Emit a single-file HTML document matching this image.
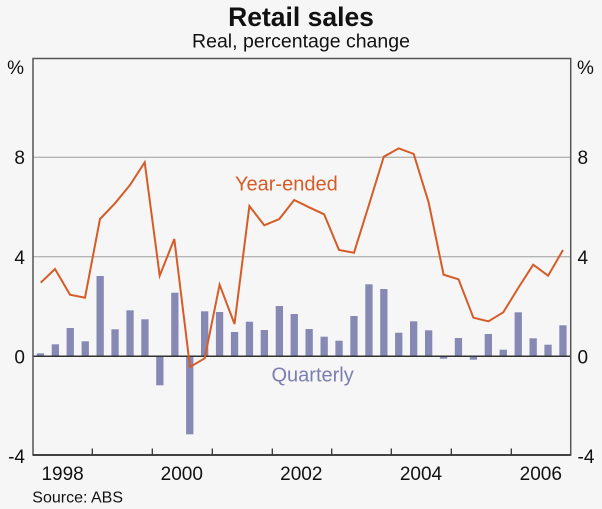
<!DOCTYPE html>
<html>
<head>
<meta charset="utf-8">
<style>
html,body{margin:0;padding:0;background:#f6f6f6;}
svg{display:block;}
text{font-family:"Liberation Sans",Arial,sans-serif;}
</style>
</head>
<body>
<svg width="602" height="509" viewBox="0 0 602 509" xmlns="http://www.w3.org/2000/svg">
<rect x="0" y="0" width="602" height="509" fill="#f6f6f6"/>
<!-- titles -->
<text x="301" y="26" text-anchor="middle" font-size="26.5" font-weight="bold" fill="#111">Retail sales</text>
<text x="301" y="47.5" text-anchor="middle" font-size="19.5" fill="#111">Real, percentage change</text>
<!-- gridlines -->
<line x1="33" y1="157.3" x2="570.7" y2="157.3" stroke="#b4b4b4" stroke-width="1.3"/>
<line x1="33" y1="256.7" x2="570.7" y2="256.7" stroke="#b4b4b4" stroke-width="1.3"/>
<!-- bars -->
<g fill="#8689b4">
<rect x="36.8" y="353.3" width="7.3" height="2.7"/>
<rect x="51.7" y="344.3" width="7.3" height="11.7"/>
<rect x="66.6" y="328" width="7.3" height="28"/>
<rect x="81.6" y="341.3" width="7.3" height="14.7"/>
<rect x="96.5" y="276" width="7.3" height="80"/>
<rect x="111.4" y="329.3" width="7.3" height="26.7"/>
<rect x="126.4" y="310.3" width="7.3" height="45.7"/>
<rect x="141.3" y="319.3" width="7.3" height="36.7"/>
<rect x="156.2" y="356" width="7.3" height="29.3"/>
<rect x="171.2" y="292.7" width="7.3" height="63.3"/>
<rect x="186.1" y="356" width="7.3" height="78.3"/>
<rect x="201" y="311.3" width="7.3" height="44.7"/>
<rect x="215.9" y="312" width="7.3" height="44"/>
<rect x="230.9" y="332" width="7.3" height="24"/>
<rect x="245.8" y="321.7" width="7.3" height="34.3"/>
<rect x="260.7" y="330" width="7.3" height="26"/>
<rect x="275.7" y="306" width="7.3" height="50"/>
<rect x="290.6" y="314" width="7.3" height="42"/>
<rect x="305.5" y="329" width="7.3" height="27"/>
<rect x="320.5" y="336.7" width="7.3" height="19.3"/>
<rect x="335.4" y="340.7" width="7.3" height="15.3"/>
<rect x="350.3" y="316" width="7.3" height="40"/>
<rect x="365.3" y="284.3" width="7.3" height="71.7"/>
<rect x="380.2" y="289" width="7.3" height="67"/>
<rect x="395.1" y="332.7" width="7.3" height="23.3"/>
<rect x="410" y="321.3" width="7.3" height="34.7"/>
<rect x="425" y="330.3" width="7.3" height="25.7"/>
<rect x="439.9" y="356" width="7.3" height="2.7"/>
<rect x="454.8" y="338" width="7.3" height="18"/>
<rect x="469.8" y="356" width="7.3" height="3.7"/>
<rect x="484.7" y="334" width="7.3" height="22"/>
<rect x="499.6" y="349.7" width="7.3" height="6.3"/>
<rect x="514.6" y="312.3" width="7.3" height="43.7"/>
<rect x="529.5" y="338.3" width="7.3" height="17.7"/>
<rect x="544.4" y="344.7" width="7.3" height="11.3"/>
<rect x="559.3" y="325.3" width="7.3" height="30.7"/>
</g>
<!-- zero line -->
<line x1="33" y1="356.2" x2="570.7" y2="356.2" stroke="#333" stroke-width="1.5"/>
<!-- frame -->
<rect x="33" y="58.5" width="537.7" height="396.5" fill="none" stroke="#555" stroke-width="1.5"/>
<line x1="33" y1="455" x2="570.7" y2="455" stroke="#222" stroke-width="1.5"/>
<!-- ticks -->
<g stroke="#333" stroke-width="1.3">
<line x1="92.3" y1="448.5" x2="92.3" y2="455"/>
<line x1="152.3" y1="448.5" x2="152.3" y2="455"/>
<line x1="212.3" y1="448.5" x2="212.3" y2="455"/>
<line x1="272.3" y1="448.5" x2="272.3" y2="455"/>
<line x1="331.7" y1="448.5" x2="331.7" y2="455"/>
<line x1="391.3" y1="448.5" x2="391.3" y2="455"/>
<line x1="451.3" y1="448.5" x2="451.3" y2="455"/>
<line x1="511.3" y1="448.5" x2="511.3" y2="455"/>
</g>
<!-- year-ended line -->
<polyline fill="none" stroke="#d55c27" stroke-width="2" stroke-linejoin="miter" points="40.7,282.7 55,269 70,294.7 85,297.7 100,219 115,203.3 130,185 144.7,162.3 159.7,275.7 174.3,239 190,367 204.7,358.3 219.6,284.7 234.5,324 249.4,206 264.3,225.3 279.3,219 294.2,200 309.1,207.3 324.1,214.3 339,250 354,252.7 368.9,205 383.8,156.7 398.8,148.3 413.7,154 428.6,202.3 443.6,274.7 458.5,279.3 473.4,317.7 488.4,321.3 503.3,312.3 518.2,288 533.2,264.7 548.1,275.7 563,250"/>
<!-- series labels -->
<text x="235" y="190.7" font-size="20" fill="#d55c27">Year-ended</text>
<text x="271.5" y="381.7" font-size="20" fill="#7b7eb2">Quarterly</text>
<!-- y axis labels left -->
<g font-size="19" fill="#111" text-anchor="end">
<text x="24" y="74">%</text>
<text x="25" y="164">8</text>
<text x="25" y="264">4</text>
<text x="25" y="363.3">0</text>
<text x="25" y="463">-4</text>
</g>
<!-- y axis labels right -->
<g font-size="19" fill="#111" text-anchor="start">
<text x="577" y="74">%</text>
<text x="577.5" y="164">8</text>
<text x="577.5" y="264">4</text>
<text x="577.5" y="363.3">0</text>
<text x="577.5" y="463">-4</text>
</g>
<!-- x axis labels -->
<g font-size="19" fill="#111" text-anchor="middle">
<text x="62.6" y="480">1998</text>
<text x="181.8" y="480">2000</text>
<text x="301.3" y="480">2002</text>
<text x="421" y="480">2004</text>
<text x="540.8" y="480">2006</text>
</g>
<text x="32.3" y="502.3" font-size="16" fill="#111">Source: ABS</text>
</svg>
</body>
</html>
